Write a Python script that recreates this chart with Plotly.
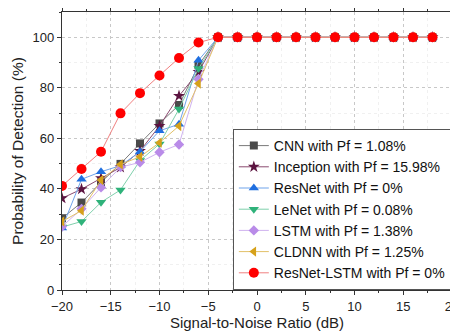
import plotly.graph_objects as go

snr = [-20, -18, -16, -14, -12, -10, -8, -6, -4, -2, 0, 2, 4, 6, 8, 10, 12, 14, 16, 18]

cnn = [28.4, 34.6, 42.6, 49.9, 58.0, 65.9, 73.2, 88.9, 100, 100, 100, 100, 100, 100, 100, 100, 100, 100, 100, 100]
inception = [36.3, 39.9, 44.2, 48.5, 55.0, 64.9, 76.8, 86.3, 100, 100, 100, 100, 100, 100, 100, 100, 100, 100, 100, 100]
resnet = [24.5, 43.8, 46.8, 49.2, 54.7, 63.0, 65.6, 90.9, 100, 100, 100, 100, 100, 100, 100, 100, 100, 100, 100, 100]
lenet = [24.9, 27.1, 34.7, 39.6, 51.2, 57.8, 71.6, 87.6, 100, 100, 100, 100, 100, 100, 100, 100, 100, 100, 100, 100]
lstm = [25.1, 32.1, 40.6, 48.6, 50.5, 54.5, 57.6, 83.4, 100, 100, 100, 100, 100, 100, 100, 100, 100, 100, 100, 100]
cldnn = [27.1, 31.4, 43.5, 49.7, 52.7, 58.3, 64.9, 81.7, 100, 100, 100, 100, 100, 100, 100, 100, 100, 100, 100, 100]
resnet_lstm = [41.2, 47.9, 54.7, 69.9, 77.9, 84.9, 91.8, 97.9, 100, 100, 100, 100, 100, 100, 100, 100, 100, 100, 100, 100]

x_ticks = [-20, -15, -10, -5, 0, 5, 10, 15, 20]
y_ticks = [0, 20, 40, 60, 80, 100]

names = ["CNN with Pf = 1.08%", "Inception with Pf = 15.98%", "ResNet with Pf = 0%",
         "LeNet with Pf = 0.08%", "LSTM with Pf = 1.38%", "CLDNN with Pf = 1.25%",
         "ResNet-LSTM with Pf = 0%"]
series = [cnn, inception, resnet, lenet, lstm, cldnn, resnet_lstm]
marker_colors = ["#4a4a4a", "#5c1440", "#1f6fe0", "#2fb27a", "#b98be8", "#d6a11a", "#ff0000"]
line_colors = ["#7a7a7a", "#8a4a70", "#6fa3ea", "#7fd0ac", "#cfb2ef", "#e2c168", "#f08080"]
symbols = ["square", "star", "triangle-up", "triangle-down", "diamond", "triangle-left", "circle"]
sizes = [8, 9, 9, 9, 8, 9, 10]

fig = go.Figure()
for n, s, mc, lc, sym, sz in zip(names, series, marker_colors, line_colors, symbols, sizes):
    fig.add_trace(go.Scatter(
        x=snr, y=s, name=n, mode="lines+markers",
        line=dict(color=lc, width=1),
        marker=dict(symbol=sym, size=sz, color=mc, line=dict(width=0)),
    ))

font = "Liberation Sans, Arial, sans-serif"
axcol = "#333"
fig.update_layout(
    width=458, height=328,
    margin=dict(l=54, r=14, t=4, b=46),
    paper_bgcolor="white", plot_bgcolor="white",
    font=dict(family=font, size=13, color="#222"),
    legend=dict(
        x=0.997, y=0.0, xanchor="right", yanchor="bottom",
        bgcolor="white", bordercolor="#555", borderwidth=1,
        font=dict(size=14, family=font, color="#111"),
        tracegroupgap=0, itemwidth=30,
    ),
    showlegend=True,
    xaxis=dict(
        range=[-20, 20], tickmode="array", tickvals=x_ticks,
        ticks="outside", ticklen=4, tickcolor=axcol, ticklabeloverflow="allow",
        minor=dict(dtick=2.5, ticks="outside", ticklen=2, tickcolor=axcol, showgrid=True, gridcolor="#f0f0f0"),
        showline=True, linecolor=axcol, linewidth=1.2, mirror="ticks",
        showgrid=True, gridcolor="#c8c8c8", griddash="dot", gridwidth=1,
        zeroline=False, automargin=False,
        title=dict(text="Signal-to-Noise Ratio (dB)", font=dict(size=15), standoff=4),
        tickfont=dict(size=13),
    ),
    yaxis=dict(
        range=[0, 110], tickmode="array", tickvals=y_ticks,
        ticks="outside", ticklen=4, tickcolor=axcol, ticklabeloverflow="allow",
        minor=dict(dtick=10, ticks="outside", ticklen=2, tickcolor=axcol, showgrid=True, gridcolor="#f0f0f0"),
        showline=True, linecolor=axcol, linewidth=1.2, mirror="ticks",
        showgrid=True, gridcolor="#c8c8c8", griddash="dot", gridwidth=1,
        zeroline=False, automargin=False,
        title=dict(text="Probability of Detection (%)", font=dict(size=15.5), standoff=5),
        tickfont=dict(size=13),
    ),
)

fig.write_html("out.html")
